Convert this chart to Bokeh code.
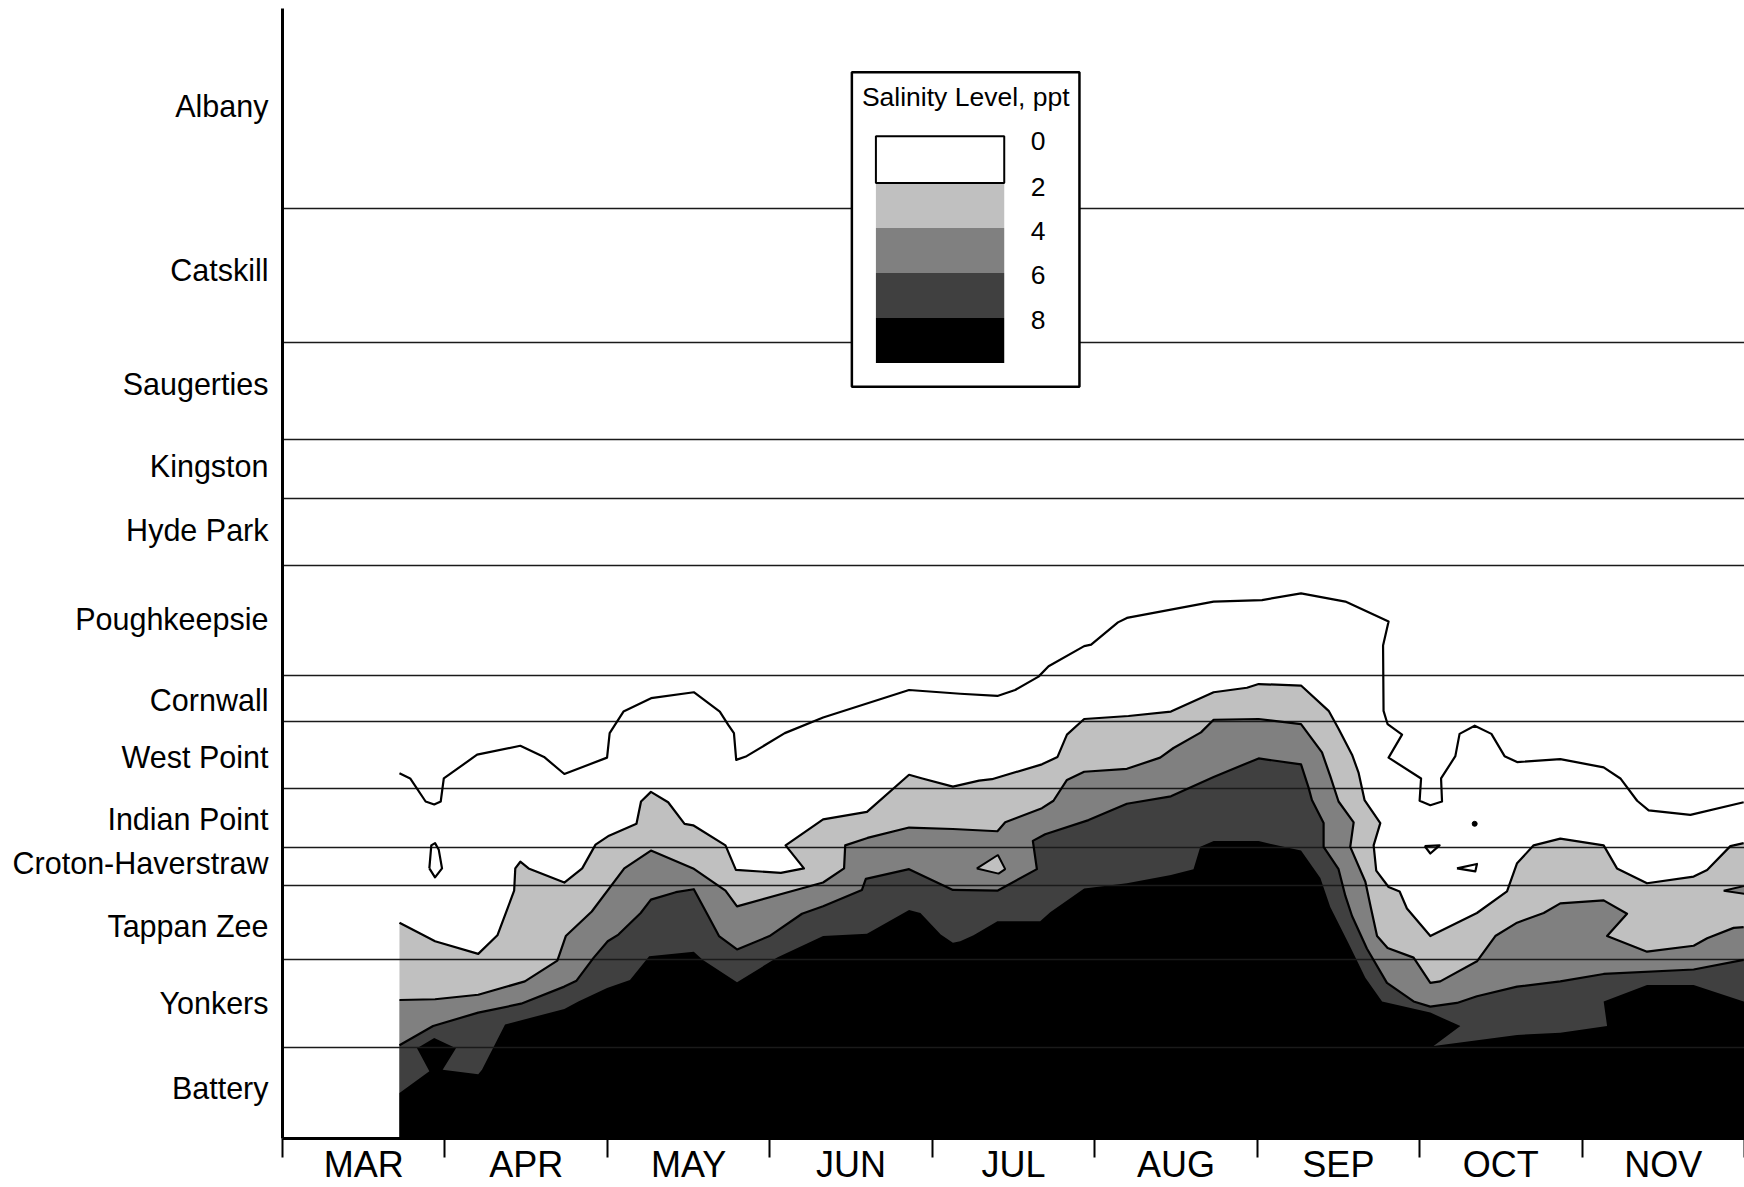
from bokeh.plotting import figure
from bokeh.models import Range1d, FixedTicker
from bokeh.embed import file_html
from bokeh.resources import INLINE
from bokeh.core.properties import value

# ---------------- data ----------------
MONTHS = ["MAR", "APR", "MAY", "JUN", "JUL", "AUG", "SEP", "OCT", "NOV"]

STATIONS = ["Battery", "Yonkers", "Tappan Zee", "Croton-Haverstraw", "Indian Point",
            "West Point", "Cornwall", "Poughkeepsie", "Hyde Park", "Kingston",
            "Saugerties", "Catskill", "Albany"]
# approximate river position of each station label (river miles)
STATION_MILE = [6.7, 18.1, 28.4, 36.9, 42.8, 51.2, 58.9, 69.7, 81.7, 90.3, 101.3, 116.7, 138.8]
# boundaries between station reaches (river miles)
REACH_LIMITS = [12.1, 24.0, 33.9, 39.0, 47.0, 55.9, 62.1, 77.0, 86.0, 93.9, 107.0, 125.0]

SAL_LEVELS = ["0", "2", "4", "6", "8"]
SAL_COLORS = ["#ffffff", "#c0c0c0", "#808080", "#404040", "#000000"]

# x = months since 1 March, y = river mile; each list traces a salinity contour
ZERO_X = [0.720, 0.786, 0.881, 0.934, 0.974, 0.993, 1.198, 1.464, 1.610, 1.735, 1.998, 2.014,
          2.099, 2.269, 2.532, 2.692, 2.744, 2.779, 2.793, 2.857, 3.092, 3.328, 3.857, 4.172,
          4.401, 4.510, 4.654, 4.716, 4.935, 4.978, 5.143, 5.198, 5.732, 6.030, 6.270, 6.543,
          6.809, 6.775, 6.778, 6.803, 6.892, 6.809, 7.009, 7.000, 7.066, 7.138, 7.132, 7.220,
          7.246, 7.339, 7.442, 7.523, 7.600, 7.866, 8.133, 8.236, 8.339, 8.410, 8.667, 8.995]
ZERO_Y = [49.0, 48.3, 45.2, 44.8, 45.2, 48.3, 51.5, 52.7, 51.2, 48.9, 51.1, 54.4,
          57.3, 59.1, 59.9, 57.3, 55.5, 54.4, 50.8, 51.3, 54.4, 56.5, 60.2, 59.7,
          59.4, 60.2, 62.0, 63.4, 66.1, 66.3, 69.3, 69.9, 72.1, 72.3, 73.2, 72.1,
          69.4, 66.2, 57.4, 55.6, 54.2, 51.1, 48.3, 45.3, 44.7, 45.2, 48.3, 51.3,
          54.3, 55.4, 54.3, 51.3, 50.5, 50.9, 49.8, 48.3, 45.3, 44.0, 43.4, 45.1]

L2_X = [0.720, 0.904, 0.939, 1.205, 1.323, 1.426, 1.433, 1.464, 1.515, 1.735, 1.845, 1.927,
        2.010, 2.179, 2.207, 2.268, 2.374, 2.475, 2.528, 2.727, 2.791, 3.068, 3.210, 3.097,
        3.328, 3.598, 3.857, 3.939, 4.127, 4.288, 4.367, 4.675, 4.771, 4.829, 4.935, 5.208,
        5.469, 5.732, 5.937, 6.009, 6.270, 6.440, 6.501, 6.584, 6.624, 6.661, 6.758, 6.717,
        6.733, 6.809, 6.877, 6.922, 7.066, 7.353, 7.538, 7.600, 7.702, 7.866, 8.133, 8.215,
        8.400, 8.687, 8.770, 8.913, 8.995]
L2_Y = [28.9, 26.8, 26.4, 24.7, 27.2, 33.2, 36.2, 37.1, 36.2, 34.3, 36.2, 39.4,
        40.6, 42.2, 45.2, 46.5, 45.1, 42.2, 42.0, 39.3, 36.0, 35.6, 36.2, 39.3,
        42.8, 43.8, 48.8, 48.3, 47.2, 48.0, 48.2, 50.2, 51.2, 54.2, 56.3, 56.7,
        57.3, 59.9, 60.5, 61.0, 60.8, 57.4, 55.0, 51.5, 49.1, 45.4, 42.3, 39.3,
        35.9, 33.7, 33.1, 30.8, 27.1, 30.2, 33.1, 36.9, 39.3, 40.2, 39.3, 36.2,
        34.2, 35.1, 36.0, 39.2, 39.6]

L4_X = [0.720, 0.939, 1.205, 1.492, 1.692, 1.744, 1.904, 2.104, 2.268, 2.528, 2.727, 2.798,
        3.328, 3.457, 3.464, 3.601, 3.857, 4.127, 4.401, 4.449, 4.675, 4.746, 4.829, 4.935,
        5.198, 5.403, 5.485, 5.654, 5.732, 6.009, 6.270, 6.399, 6.450, 6.501, 6.594, 6.573,
        6.666, 6.701, 6.738, 6.803, 6.963, 7.066, 7.127, 7.353, 7.466, 7.600, 7.764, 7.866,
        8.133, 8.277, 8.154, 8.400, 8.687, 8.770, 8.933, 8.995]
L4_Y = [18.5, 18.6, 19.2, 21.0, 23.8, 27.1, 30.4, 36.2, 38.6, 36.2, 33.2, 31.1,
        34.3, 36.2, 39.3, 40.3, 41.7, 41.5, 41.2, 42.4, 44.3, 45.3, 48.1, 49.2,
        49.6, 51.1, 52.4, 54.5, 56.2, 56.3, 55.6, 51.8, 48.6, 45.2, 42.4, 39.1,
        34.4, 30.8, 27.1, 25.5, 24.2, 20.8, 21.0, 23.7, 27.1, 28.9, 30.2, 31.5,
        31.9, 30.1, 27.1, 25.0, 25.8, 26.8, 28.2, 28.3]

L6_X = [0.720, 0.927, 1.205, 1.469, 1.735, 1.810, 1.916, 2.002, 2.068, 2.205, 2.268, 2.421,
        2.532, 2.621, 2.687, 2.798, 2.998, 3.198, 3.328, 3.567, 3.591, 3.857, 4.127, 4.401,
        4.644, 4.619, 4.695, 4.962, 5.198, 5.469, 5.732, 6.009, 6.270, 6.316, 6.337, 6.409,
        6.409, 6.501, 6.543, 6.584, 6.676, 6.799, 6.963, 7.066, 7.230, 7.353, 7.600, 7.866,
        8.133, 8.687, 8.995]
L6_Y = [12.4, 15.0, 16.8, 18.0, 20.3, 21.1, 24.2, 26.4, 27.3, 30.2, 32.0, 33.0,
        33.4, 29.8, 27.1, 25.3, 27.1, 30.1, 31.1, 33.3, 34.8, 36.1, 33.3, 33.2,
        36.1, 39.9, 40.8, 42.7, 44.9, 45.9, 48.5, 51.0, 50.2, 47.1, 45.4, 42.3,
        39.1, 36.1, 32.5, 29.8, 25.4, 20.8, 18.3, 17.6, 18.1, 19.0, 20.3, 21.0,
        22.0, 22.6, 23.9]

L8_X = [0.720, 0.904, 0.828, 0.934, 1.068, 0.986, 1.205, 1.228, 1.370, 1.735, 1.821, 1.998,
        2.139, 2.257, 2.532, 2.586, 2.798, 3.045, 3.328, 3.598, 3.857, 3.927, 4.052, 4.127,
        4.172, 4.254, 4.401, 4.664, 4.726, 4.935, 5.198, 5.469, 5.608, 5.650, 5.732, 6.009,
        6.142, 6.270, 6.389, 6.450, 6.563, 6.666, 6.769, 7.066, 7.251, 7.086, 7.600, 7.866,
        8.154, 8.133, 8.400, 8.687, 8.995]
L8_Y = [6.0, 8.9, 12.0, 13.4, 12.0, 9.1, 8.5, 9.1, 15.2, 17.3, 18.3, 20.1,
        21.2, 24.4, 25.0, 23.9, 20.9, 24.2, 27.1, 27.4, 30.6, 30.2, 27.3, 26.2,
        26.4, 27.2, 29.1, 29.1, 30.3, 33.5, 34.2, 35.3, 36.1, 39.1, 39.9, 39.9,
        39.2, 38.6, 34.9, 31.0, 26.1, 21.5, 18.3, 16.8, 15.0, 12.3, 13.8, 14.1,
        15.0, 18.3, 20.5, 20.5, 18.3]

# small closed contours
LOOP_APR_X = [0.904, 0.916, 0.939, 0.962, 0.982, 0.939, 0.904]
LOOP_APR_Y = [36.2, 39.3, 39.6, 38.7, 36.2, 35.0, 36.2]
ISLAND_JUL_X = [4.275, 4.404, 4.449, 4.408]          # 2-4 ppt pocket inside 4-6 ppt
ISLAND_JUL_Y = [36.2, 38.0, 36.1, 35.5]
LOOP_OCT1_X = [7.031, 7.123, 7.066, 7.031]
LOOP_OCT1_Y = [39.2, 39.3, 38.2, 39.2]
LOOP_OCT2_X = [7.230, 7.353, 7.343, 7.230]
LOOP_OCT2_Y = [36.2, 36.8, 35.8, 36.2]
DOT_OCT_X = [7.339]
DOT_OCT_Y = [42.2]
TONGUE_NOV_X = [8.872, 9.05, 9.05]                    # 4-6 ppt tongue at right edge
TONGUE_NOV_Y = [33.2, 34.1, 32.6]

# ---------------- layout constants ----------------
FONT = "Liberation Sans"
X_END = 9.0
Y_START, Y_END = -0.134, 151.88
BOTTOM = -2.0

LEG_BOX = dict(left=3.505, right=4.906, bottom=101.0, top=143.3)
LEG_SW_LEFT, LEG_SW_RIGHT = 3.653, 4.443
LEG_SW_EDGES = [134.7, 128.4, 122.35, 116.3, 110.25, 104.2]
LEG_LABEL_X = 4.652
LEG_LABEL_Y = [134.1, 127.9, 122.0, 116.0, 110.0]
LEG_TITLE_XY = (4.206, 140.0)

p = figure(width=1744, height=1187,
           x_range=Range1d(0, X_END), y_range=Range1d(Y_START, Y_END),
           output_backend="svg", toolbar_location=None,
           min_border_left=282, min_border_right=0, min_border_top=8, min_border_bottom=48)
p.outline_line_color = None
p.background_fill_color = "white"
p.border_fill_color = "white"
p.xgrid.visible = False
p.ygrid.visible = False


def closed_region(xs, ys):
    return xs + [xs[-1] + 0.06, xs[-1] + 0.06, xs[0]], ys + [ys[-1], BOTTOM, BOTTOM]


# filled salinity bands (stacked)
for (bx, by), color in zip([(L2_X, L2_Y), (L4_X, L4_Y), (L6_X, L6_Y), (L8_X, L8_Y)],
                           SAL_COLORS[1:]):
    px, py = closed_region(bx, by)
    p.patch(px, py, fill_color=color, line_color=None)

# small pockets
p.patch(ISLAND_JUL_X, ISLAND_JUL_Y, fill_color=SAL_COLORS[1], line_color="black", line_width=2)
p.patch(TONGUE_NOV_X, TONGUE_NOV_Y, fill_color=SAL_COLORS[2], line_color="black", line_width=2)

# reach boundaries
p.hspan(y=REACH_LIMITS, line_color="#1a1a1a", line_width=1.6)

# contour lines
for bx, by in [(ZERO_X, ZERO_Y), (L2_X, L2_Y), (L4_X, L4_Y), (L6_X, L6_Y)]:
    p.line(bx, by, line_color="black", line_width=2.2, line_join="round")
for bx, by in [(LOOP_APR_X, LOOP_APR_Y), (LOOP_OCT1_X, LOOP_OCT1_Y), (LOOP_OCT2_X, LOOP_OCT2_Y)]:
    p.line(bx, by, line_color="black", line_width=2.2, line_join="round")
p.scatter(DOT_OCT_X, DOT_OCT_Y, size=5, color="black")

# legend
p.quad(fill_color="white", line_color="black", line_width=2.5, **LEG_BOX)
p.quad(left=LEG_SW_LEFT, right=LEG_SW_RIGHT, top=LEG_SW_EDGES[:-1], bottom=LEG_SW_EDGES[1:],
       fill_color=SAL_COLORS, line_color=None)
p.quad(left=[LEG_SW_LEFT], right=[LEG_SW_RIGHT], top=[LEG_SW_EDGES[0]], bottom=[LEG_SW_EDGES[1]],
       fill_color="white", line_color="black", line_width=2)
p.text(x=[LEG_LABEL_X] * len(SAL_LEVELS), y=LEG_LABEL_Y, text=SAL_LEVELS,
       text_font=value(FONT), text_font_size="26.5px", text_align="center",
       text_baseline="middle", text_color="black")
p.text(x=[LEG_TITLE_XY[0]], y=[LEG_TITLE_XY[1]], text=["Salinity Level, ppt"],
       text_font=value(FONT), text_font_size="26.5px", text_align="center",
       text_baseline="middle", text_color="black")

# x axis: month names centred in each month, ticks at month boundaries
month_centres = [i + 0.5 for i in range(len(MONTHS))]
month_edges = list(range(len(MONTHS) + 1))
xa = p.xaxis[0]
xa.ticker = FixedTicker(ticks=month_centres, minor_ticks=month_edges)
xa.major_label_overrides = {c: m for c, m in zip(month_centres, MONTHS)}
xa.major_tick_out = 0
xa.major_tick_in = 0
xa.minor_tick_out = 0
xa.minor_tick_in = -19
xa.minor_tick_line_width = 2
xa.minor_tick_line_color = "black"
xa.axis_line_width = 3
xa.axis_line_color = "black"
xa.major_label_standoff = 5
xa.major_label_text_font = FONT
xa.major_label_text_font_size = "36px"
xa.major_label_text_color = "black"

# y axis: station names
ya = p.yaxis[0]
ya.ticker = FixedTicker(ticks=STATION_MILE, minor_ticks=[])
ya.major_label_overrides = {m: s for m, s in zip(STATION_MILE, STATIONS)}
ya.major_tick_out = 0
ya.major_tick_in = 0
ya.minor_tick_out = 0
ya.minor_tick_in = 0
ya.axis_line_width = 3
ya.axis_line_color = "black"
ya.major_label_standoff = 14
ya.major_label_text_font = FONT
ya.major_label_text_font_size = "30.5px"
ya.major_label_text_color = "black"

open("out.html", "w").write(file_html(p, INLINE))
